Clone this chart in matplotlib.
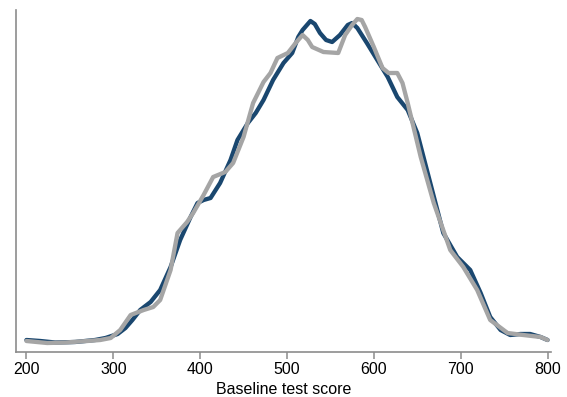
import numpy as np
import matplotlib as mpl
import matplotlib.pyplot as plt

mpl.rcParams.update({'font.family': ['Liberation Sans', 'DejaVu Sans'], 'font.size': 11.5})

# kernel density of baseline scores, two groups (density in units of 1e-5)
score_a = [200, 216, 233, 256, 279, 291, 305, 314, 322, 331,
           343, 354, 366, 377, 389, 397, 404, 412, 423, 435,
           443, 455, 464, 473, 484, 496, 506, 513, 518, 527,
           532, 538, 545, 552, 561, 570, 575, 581, 592, 604,
           616, 627, 639, 650, 665, 680, 696, 711, 723, 734,
           746, 757, 769, 780, 792, 800]
dens_a = [12, 11, 9.5, 10, 12, 14, 18, 24, 32, 42,
          50, 62, 85, 112, 135, 149, 152, 154, 169, 192,
          212, 229, 239, 252, 272, 289, 299, 315, 322, 331,
          328, 319, 312, 310, 317, 327, 329, 324, 309, 292,
          275, 255, 242, 219, 169, 119, 95, 82, 59, 35,
          22, 17, 18, 18, 15, 12]

score_b = [200, 224, 245, 270, 285, 297, 308, 320, 335, 346,
           354, 366, 374, 385, 392, 404, 415, 429, 438, 450,
           461, 473, 481, 489, 501, 510, 518, 524, 529, 542,
           559, 567, 575, 581, 586, 590, 600, 610, 617, 627,
           633, 639, 654, 669, 688, 703, 719, 734, 754, 772,
           792, 800]
dens_b = [11, 9, 9.5, 11, 12, 14, 22, 37, 42, 45,
          52, 82, 119, 130, 139, 157, 175, 180, 189, 215,
          249, 270, 279, 294, 299, 309, 317, 312, 305, 300,
          299, 317, 327, 333, 332, 325, 305, 284, 279, 279,
          269, 249, 195, 149, 102, 85, 62, 32, 19, 17,
          15, 12]

xticks = [200, 300, 400, 500, 600, 700, 800]

fig = plt.figure(figsize=(5.67, 3.97), dpi=100)
ax = fig.add_axes([16/567, 45/397, 535/567, 342/397])

ax.plot(score_a, np.array(dens_a)*1e-5, color='#1a476f', lw=3.1, solid_joinstyle='round', solid_capstyle='round')
ax.plot(score_b, np.array(dens_b)*1e-5, color='#a5a5a5', lw=3.1, solid_joinstyle='round', solid_capstyle='round')

ax.set_xlim(188, 804)
ax.set_ylim(0, 342e-5)
ax.set_xticks(xticks)
ax.set_yticks([])
ax.set_xlabel("Baseline test score", fontsize=11.5, labelpad=3.5)

for s in ['top', 'right']:
    ax.spines[s].set_visible(False)
for s in ['left', 'bottom']:
    ax.spines[s].set_color('#8c8c8c')
    ax.spines[s].set_linewidth(1.2)
ax.tick_params(axis='x', direction='out', length=5, width=1.1, color='#8c8c8c', pad=2, labelsize=11.5)

fig.savefig('out.png', dpi=100)
